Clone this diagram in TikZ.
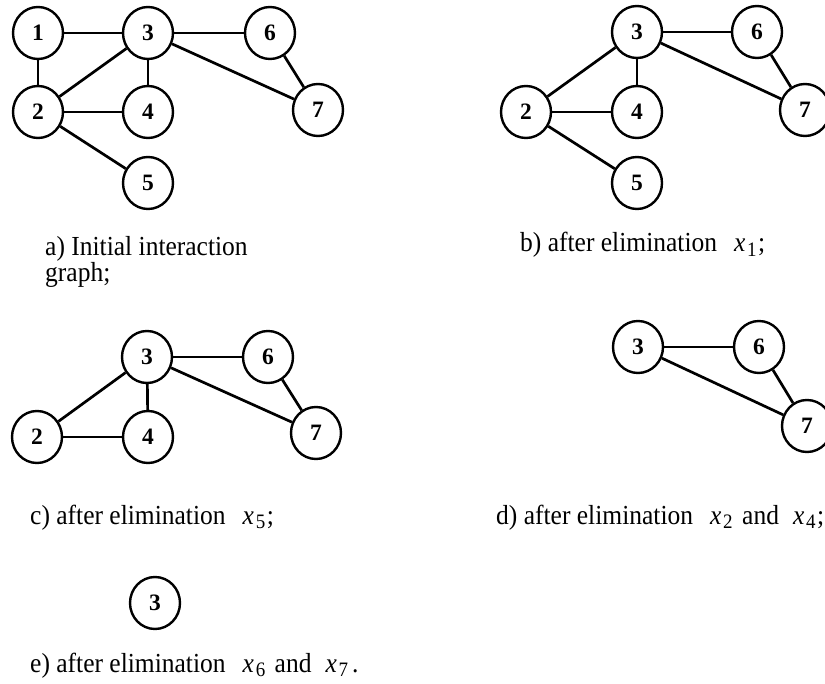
\documentclass[tikz,border=0pt]{standalone}
\usepackage{fontspec}
\usepackage{graphicx}
\usetikzlibrary{shapes.geometric}
\setmainfont{Liberation Serif}
\newcommand{\xsub}[1]{\textit{x}\kern1.8pt\raisebox{-4.5pt}{\fontsize{19}{21}\selectfont #1}}
\newcommand{\captxt}[1]{\scalebox{1}[1.08]{#1}}
\begin{document}
\begin{tikzpicture}[x=1pt,y=-1pt,
  vnode/.style={draw, line width=2.4pt, ellipse, minimum width=50pt, minimum height=52pt, inner sep=0pt,
    font=\fontsize{23.5}{27}\selectfont\bfseries},
  edge/.style={line width=2.7pt},
  captext/.style={anchor=base west, inner sep=0pt, font=\fontsize{25.5}{30}\selectfont}]
\useasboundingbox (0,0) rectangle (825,684);
% a)
\node[vnode] (a1) at (38,33) {1};
\node[vnode] (a3) at (148,33) {3};
\node[vnode] (a6) at (270,33) {6};
\node[vnode] (a2) at (38,112) {2};
\node[vnode] (a4) at (148,112) {4};
\node[vnode] (a7) at (318,110) {7};
\node[vnode] (a5) at (148,183) {5};
\draw[edge] (a1) -- (a3);
\draw[edge] (a1) -- (a2);
\draw[edge] (a2) -- (a3);
\draw[edge] (a2) -- (a4);
\draw[edge] (a3) -- (a4);
\draw[edge] (a3) -- (a6);
\draw[edge] (a3) -- (a7);
\draw[edge] (a6) -- (a7);
\draw[edge] (a2) -- (a5);
\node[captext] (capa1) at (45,256) {\captxt{a) Initial interaction}};
\node[captext] (capa2) at (45,282) {\captxt{graph;}};
% b)
\node[vnode] (b3) at (637,32) {3};
\node[vnode] (b6) at (757,32) {6};
\node[vnode] (b2) at (526,112) {2};
\node[vnode] (b4) at (637,112) {4};
\node[vnode] (b7) at (805,110) {7};
\node[vnode] (b5) at (637,183) {5};
\draw[edge] (b2) -- (b3);
\draw[edge] (b2) -- (b4);
\draw[edge] (b3) -- (b4);
\draw[edge] (b3) -- (b6);
\draw[edge] (b3) -- (b7);
\draw[edge] (b6) -- (b7);
\draw[edge] (b2) -- (b5);
\node[captext] (capb) at (520,252) {\captxt{b) after elimination\hspace{0.42em} \xsub{1}\kern1.5pt;}};
% c)
\node[vnode] (c3) at (147,357) {3};
\node[vnode] (c6) at (268,357) {6};
\node[vnode] (c2) at (37,437) {2};
\node[vnode] (c4) at (148,437) {4};
\node[vnode] (c7) at (316,433) {7};
\draw[edge] (c2) -- (c3);
\draw[edge] (c2) -- (c4);
\draw[edge] (c3) -- (c4);
\draw[edge] (c3) -- (c6);
\draw[edge] (c3) -- (c7);
\draw[edge] (c6) -- (c7);
\node[captext] (capc) at (30,524) {\captxt{c) after elimination\hspace{0.42em} \xsub{5}\kern1.5pt;}};
% d)
\node[vnode] (d3) at (638,347) {3};
\node[vnode] (d6) at (759,347) {6};
\node[vnode] (d7) at (807,426) {7};
\draw[edge] (d3) -- (d6);
\draw[edge] (d3) -- (d7);
\draw[edge] (d6) -- (d7);
\node[captext] (capd) at (496,524) {\captxt{d) after elimination\hspace{0.42em} \xsub{2}\hspace{0.12em} and\hspace{0.3em} \xsub{4}\kern1.5pt;}};
% e)
\node[vnode] (e3) at (155,603) {3};
\node[captext] (cape) at (30,672) {\captxt{e) after elimination\hspace{0.42em} \xsub{6}\hspace{0.12em} and\hspace{0.3em} \xsub{7}\kern4pt.}};
\end{tikzpicture}
\end{document}
